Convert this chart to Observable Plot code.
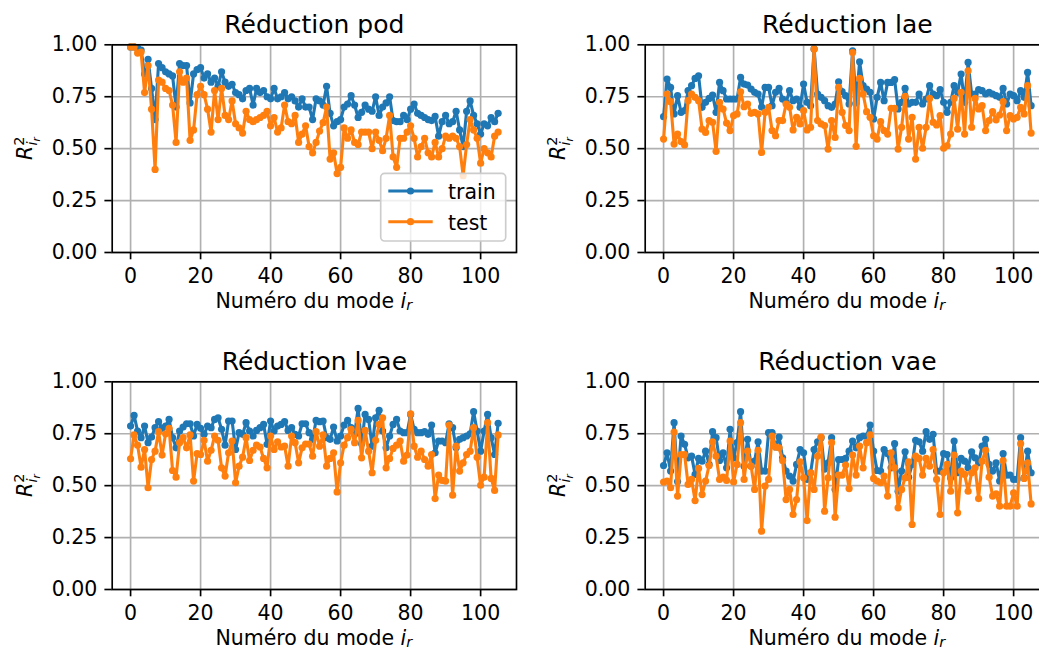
<!DOCTYPE html>
<html><head><meta charset="utf-8">
<script src="https://cdn.jsdelivr.net/npm/d3@7"></script>
<script src="https://cdn.jsdelivr.net/npm/@observablehq/plot@0.6"></script>
<style>
html,body{margin:0;padding:0;background:#fff;overflow:hidden}
#fig{position:relative;width:1039px;height:651px;overflow:hidden;background:#fff}
#fig svg{position:absolute;max-width:none}
</style></head><body><div id="fig"></div>
<script>
const modes = d3.range(106);
const xTicks = [0, 20, 40, 60, 80, 100];
const yTicks = [0, 0.25, 0.5, 0.75, 1];
const seriesNames = ["train", "test"];
const seriesColors = ["#1f77b4", "#ff7f0e"];
const titles = ["Réduction pod", "Réduction lae", "Réduction lvae", "Réduction vae"];

const trainPod = [0.99,0.99,0.985,0.975,0.86,0.93,0.79,0.64,0.91,0.89,
0.87,0.86,0.85,0.70,0.91,0.90,0.90,0.72,0.86,0.88,
0.89,0.84,0.86,0.82,0.84,0.80,0.87,0.82,0.80,0.81,
0.77,0.76,0.74,0.78,0.79,0.71,0.79,0.77,0.78,0.75,
0.74,0.79,0.74,0.75,0.77,0.74,0.75,0.73,0.70,0.74,
0.70,0.70,0.64,0.74,0.73,0.71,0.80,0.67,0.61,0.63,
0.64,0.70,0.715,0.755,0.71,0.65,0.675,0.71,0.69,0.68,
0.75,0.66,0.70,0.72,0.75,0.635,0.63,0.63,0.66,0.64,
0.69,0.715,0.67,0.66,0.65,0.64,0.635,0.655,0.56,0.63,
0.66,0.62,0.63,0.68,0.59,0.51,0.68,0.73,0.66,0.62,
0.57,0.62,0.61,0.65,0.63,0.67];
const testPod = [0.99,0.99,0.96,0.965,0.77,0.90,0.69,0.40,0.83,0.82,
0.79,0.78,0.71,0.53,0.87,0.82,0.84,0.54,0.59,0.76,
0.80,0.76,0.69,0.58,0.78,0.64,0.79,0.66,0.64,0.73,
0.62,0.60,0.575,0.68,0.64,0.63,0.64,0.65,0.66,0.68,
0.61,0.65,0.58,0.60,0.71,0.63,0.62,0.66,0.53,0.57,
0.61,0.51,0.48,0.53,0.585,0.625,0.70,0.45,0.48,0.38,
0.41,0.60,0.55,0.59,0.53,0.52,0.58,0.58,0.58,0.50,
0.58,0.54,0.49,0.55,0.66,0.46,0.41,0.55,0.55,0.58,
0.61,0.55,0.46,0.51,0.55,0.48,0.46,0.53,0.46,0.50,
0.56,0.55,0.56,0.55,0.51,0.37,0.52,0.64,0.59,0.55,
0.43,0.50,0.48,0.46,0.56,0.58];

const trainLae = [0.654,0.835,0.795,0.667,0.755,0.675,0.683,0.779,0.803,0.838,
0.851,0.699,0.723,0.742,0.758,0.675,0.819,0.779,0.739,0.739,
0.739,0.739,0.843,0.811,0.806,0.787,0.771,0.763,0.70,0.795,
0.795,0.707,0.771,0.79,0.739,0.723,0.779,0.731,0.739,0.699,
0.811,0.723,0.707,0.98,0.763,0.747,0.731,0.707,0.699,0.715,
0.822,0.775,0.755,0.715,0.971,0.72,0.918,0.803,0.787,0.771,
0.643,0.747,0.819,0.731,0.819,0.819,0.832,0.691,0.723,0.79,
0.715,0.723,0.723,0.763,0.715,0.739,0.803,0.763,0.755,0.784,
0.723,0.675,0.723,0.803,0.771,0.859,0.723,0.915,0.763,0.763,
0.784,0.779,0.763,0.771,0.763,0.755,0.747,0.79,0.715,0.763,
0.755,0.731,0.779,0.747,0.867,0.707];
const testLae = [0.546,0.763,0.726,0.522,0.57,0.534,0.518,0.731,0.763,0.747,
0.731,0.594,0.578,0.635,0.627,0.487,0.723,0.691,0.623,0.587,
0.659,0.667,0.774,0.702,0.715,0.67,0.675,0.667,0.482,0.675,
0.699,0.587,0.562,0.635,0.635,0.715,0.699,0.59,0.651,0.619,
0.683,0.59,0.603,0.979,0.635,0.619,0.611,0.498,0.635,0.554,
0.795,0.675,0.611,0.587,0.963,0.511,0.838,0.763,0.678,0.651,
0.562,0.546,0.63,0.587,0.57,0.694,0.694,0.498,0.603,0.752,
0.546,0.651,0.45,0.603,0.502,0.603,0.742,0.627,0.614,0.659,
0.502,0.514,0.57,0.742,0.594,0.771,0.57,0.875,0.603,0.742,
0.691,0.707,0.587,0.635,0.678,0.639,0.662,0.726,0.587,0.659,
0.643,0.651,0.699,0.667,0.803,0.575];

const trainLvae = [0.787,0.838,0.763,0.731,0.787,0.707,0.734,0.779,0.808,0.776,
0.787,0.819,0.731,0.682,0.763,0.782,0.798,0.798,0.739,0.795,
0.776,0.747,0.787,0.779,0.819,0.827,0.771,0.695,0.811,0.811,
0.674,0.755,0.747,0.803,0.763,0.739,0.766,0.779,0.795,0.699,
0.811,0.763,0.787,0.795,0.808,0.766,0.779,0.747,0.739,0.798,
0.798,0.755,0.723,0.814,0.808,0.811,0.731,0.723,0.782,0.715,
0.739,0.792,0.814,0.779,0.747,0.872,0.702,0.843,0.819,0.69,
0.827,0.863,0.763,0.682,0.739,0.795,0.819,0.763,0.755,0.755,
0.843,0.771,0.755,0.755,0.76,0.747,0.792,0.658,0.715,0.715,
0.707,0.798,0.779,0.682,0.723,0.731,0.739,0.75,0.856,0.763,
0.666,0.763,0.843,0.731,0.65,0.80];
const testLvae = [0.629,0.744,0.695,0.589,0.674,0.49,0.626,0.666,0.76,0.647,
0.75,0.776,0.573,0.541,0.707,0.731,0.682,0.744,0.522,0.654,
0.65,0.718,0.618,0.67,0.739,0.718,0.586,0.546,0.658,0.715,
0.514,0.594,0.637,0.731,0.621,0.67,0.695,0.686,0.631,0.586,
0.739,0.674,0.711,0.686,0.691,0.594,0.739,0.707,0.61,0.682,
0.70,0.70,0.642,0.76,0.69,0.744,0.594,0.631,0.658,0.47,
0.61,0.695,0.731,0.771,0.707,0.814,0.634,0.766,0.666,0.562,
0.718,0.795,0.827,0.586,0.631,0.679,0.695,0.715,0.618,0.647,
0.846,0.69,0.637,0.666,0.626,0.594,0.65,0.438,0.551,0.525,
0.522,0.792,0.454,0.69,0.57,0.61,0.65,0.666,0.779,0.637,
0.502,0.541,0.803,0.535,0.477,0.744];

const trainVae = [0.597,0.658,0.57,0.803,0.52,0.739,0.699,0.634,0.642,0.554,
0.631,0.618,0.666,0.602,0.76,0.731,0.621,0.658,0.586,0.771,
0.634,0.707,0.856,0.594,0.723,0.594,0.618,0.711,0.57,0.57,
0.755,0.755,0.686,0.734,0.634,0.57,0.546,0.522,0.602,0.674,
0.658,0.53,0.562,0.674,0.711,0.731,0.58,0.61,0.731,0.482,
0.626,0.626,0.631,0.666,0.715,0.682,0.731,0.739,0.739,0.792,
0.666,0.573,0.57,0.674,0.654,0.586,0.702,0.473,0.57,0.663,
0.541,0.602,0.718,0.711,0.666,0.76,0.723,0.747,0.57,0.57,
0.654,0.65,0.538,0.715,0.562,0.631,0.618,0.586,0.663,0.634,
0.61,0.69,0.723,0.602,0.57,0.61,0.522,0.654,0.551,0.551,
0.53,0.53,0.731,0.538,0.666,0.562];
const testVae = [0.517,0.522,0.49,0.758,0.45,0.65,0.65,0.506,0.53,0.428,
0.583,0.457,0.522,0.597,0.711,0.642,0.53,0.541,0.525,0.715,
0.518,0.602,0.803,0.53,0.666,0.594,0.482,0.67,0.281,0.498,
0.53,0.739,0.686,0.682,0.621,0.433,0.482,0.361,0.433,0.615,
0.538,0.332,0.562,0.482,0.642,0.734,0.377,0.538,0.707,0.348,
0.551,0.551,0.599,0.486,0.647,0.551,0.69,0.586,0.707,0.744,
0.535,0.522,0.514,0.546,0.45,0.658,0.586,0.393,0.482,0.538,
0.615,0.313,0.642,0.631,0.551,0.631,0.594,0.674,0.53,0.361,
0.562,0.602,0.473,0.647,0.369,0.57,0.554,0.473,0.562,0.586,
0.438,0.618,0.67,0.541,0.45,0.461,0.401,0.621,0.401,0.401,
0.465,0.401,0.702,0.535,0.61,0.412];

const panels = [
  {title: titles[0], train: trainPod, test: testPod, left: 0, top: 0, legend: true},
  {title: titles[1], train: trainLae, test: testLae, left: 533.3, top: 0},
  {title: titles[2], train: trainLvae, test: testLvae, left: 0, top: 336.7},
  {title: titles[3], train: trainVae, test: testVae, left: 533.3, top: 336.7}
];

const W = 530, H = 335, ML = 111.7, MR = 14, MT = 44.3, MB = 83;
const FONT = "DejaVu Sans, sans-serif";
const fig = document.getElementById("fig");

function makePanel(p) {
  const rows = seriesNames.flatMap((s, k) =>
    (k === 0 ? p.train : p.test).map((v, i) => ({mode: modes[i], r2: v, series: s})));
  const seriesMarks = seriesNames.flatMap(s => {
    const d = rows.filter(r => r.series === s);
    return [
      Plot.line(d, {x: "mode", y: "r2", stroke: "series", strokeWidth: 3.1}),
      Plot.dot(d, {x: "mode", y: "r2", fill: "series", r: 3.6})
    ];
  });
  const svg = Plot.plot({
    width: W, height: H,
    marginLeft: ML, marginRight: MR, marginTop: MT, marginBottom: MB,
    style: {fontFamily: FONT, fontSize: "20.5px", background: "transparent", color: "black", overflow: "visible"},
    x: {domain: [-5.25, 110.25]},
    y: {domain: [0, 1]},
    color: {domain: seriesNames, range: seriesColors},
    marks: [
      Plot.gridX(xTicks, {stroke: "#b0b0b0", strokeOpacity: 1, strokeWidth: 1.67}),
      Plot.gridY(yTicks, {stroke: "#b0b0b0", strokeOpacity: 1, strokeWidth: 1.67}),
      ...seriesMarks,
      Plot.frame({stroke: "black", strokeWidth: 1.67}),
      Plot.axisX(xTicks, {tickSize: 7.3, tickPadding: 9, strokeWidth: 1.67, label: null}),
      Plot.axisY(yTicks, {tickSize: 7.3, tickPadding: 7.5, strokeWidth: 1.67, tickFormat: d3.format(".2f"), label: null}),
      Plot.text([p.title], {text: d => d, frameAnchor: "top", lineAnchor: "bottom", dy: -12.3, fontSize: 25})
    ]
  });
  svg.style.left = p.left + "px";
  svg.style.top = p.top + "px";
  const s = d3.select(svg);
  // x-axis label
  const xl = s.append("text")
    .attr("x", ML + (W - ML - MR) / 2).attr("y", MT + (H - MT - MB) + 56)
    .attr("text-anchor", "middle").attr("font-size", 20.5).attr("fill", "black");
  xl.append("tspan").text("Numéro du mode ");
  xl.append("tspan").attr("font-style", "italic").text("i");
  xl.append("tspan").attr("font-style", "italic").attr("font-size", 14.5).attr("dy", 2.3).text("r");
  // y-axis label
  const yl = s.append("text")
    .attr("transform", `translate(32,${MT + (H - MT - MB) / 2}) rotate(-90)`)
    .attr("text-anchor", "middle").attr("font-size", 20.5).attr("fill", "black");
  yl.append("tspan").attr("font-style", "italic").text("R");
  yl.append("tspan").attr("font-size", 14.5).attr("dy", -8.5).text("2");
  yl.append("tspan").attr("font-style", "italic").attr("font-size", 14.5).attr("dx", -9.2).attr("dy", 13.5).text("i");
  yl.append("tspan").attr("font-style", "italic").attr("font-size", 10.5).attr("dy", 3).text("r");
  if (p.legend) {
    const g = s.append("g").attr("font-size", 20.5).attr("text-anchor", "start");
    g.append("rect").attr("x", 380.7).attr("y", 173.3).attr("width", 125).attr("height", 67.7)
      .attr("rx", 4).attr("fill", "white").attr("fill-opacity", 0.8)
      .attr("stroke", "#cccccc").attr("stroke-width", 1.67);
    seriesNames.forEach((name, k) => {
      const cy = 191 + 30.7 * k;
      g.append("line").attr("x1", 388.3).attr("x2", 432.7).attr("y1", cy).attr("y2", cy)
        .attr("stroke", seriesColors[k]).attr("stroke-width", 3.1);
      g.append("circle").attr("cx", 410.5).attr("cy", cy).attr("r", 3.6).attr("fill", seriesColors[k]);
      g.append("text").attr("x", 448).attr("y", cy + 8).attr("fill", "black")
        .attr("text-anchor", "start").text(name);
    });
  }
  fig.appendChild(svg);
}
panels.forEach(makePanel);
</script></body></html>
